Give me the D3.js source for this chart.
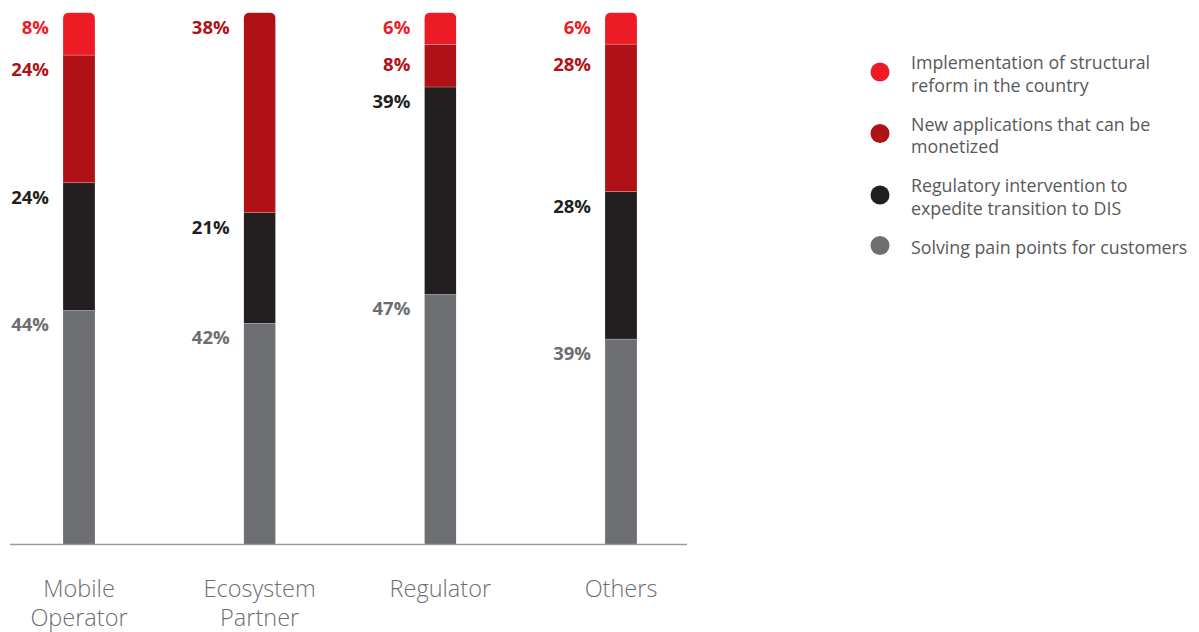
<!DOCTYPE html>
<html>
<head>
<meta charset="utf-8">
<script src="https://cdn.jsdelivr.net/npm/d3@7"></script>
<style>
  body { margin: 0; background: #fff; }
  text { font-family: "Open Sans", "Noto Sans", sans-serif; }
</style>
</head>
<body>
<script>
// data
var categories = ["Mobile Operator", "Ecosystem Partner", "Regulator", "Others"];
var solving = [44, 42, 47, 39];
var regulatory = [24, 21, 39, 28];
var newApps = [24, 38, 8, 28];
var implementation = [8, 0, 6, 6];

var seriesKeys = ["solving", "regulatory", "newApps", "implementation"];
var legendLines = {
  implementation: ["Implementation of structural", "reform in the country"],
  newApps: ["New applications that can be", "monetized"],
  regulatory: ["Regulatory intervention to", "expedite transition to DIS"],
  solving: ["Solving pain points for customers"]
};
var colors = {
  solving: "#6d6e71",
  regulatory: "#231f20",
  newApps: "#b01117",
  implementation: "#ed1c24"
};

var rows = categories.map(function(c, i) {
  return {cat: c, solving: solving[i], regulatory: regulatory[i],
          newApps: newApps[i], implementation: implementation[i]};
});

var W = 1199, H = 632;
var svg = d3.select("body").append("svg").attr("width", W).attr("height", H);

var x = d3.scalePoint().domain(categories).range([79, 621]);
var y = d3.scaleLinear().domain([0, 1]).range([544.5, 12.5]);
var barW = 32;

var stack = d3.stack().keys(seriesKeys).offset(d3.stackOffsetExpand);
var stacked = stack(rows);

// clip paths for rounded tops
var defs = svg.append("defs");
categories.forEach(function(c, i) {
  defs.append("clipPath").attr("id", "clip" + i)
    .append("rect")
    .attr("x", x(c) - barW / 2)
    .attr("y", y(1))
    .attr("width", barW)
    .attr("height", y(0) - y(1) + 20)
    .attr("rx", 6);
});

var bars = svg.append("g");
stacked.forEach(function(s) {
  bars.selectAll(null).data(s).enter().append("rect")
    .attr("clip-path", function(d, i) { return "url(#clip" + i + ")"; })
    .attr("x", function(d) { return x(d.data.cat) - barW / 2; })
    .attr("y", function(d) { return y(d[1]); })
    .attr("width", barW)
    .attr("height", function(d) { return Math.max(0, y(d[0]) - y(d[1])); })
    .attr("fill", colors[s.key])
    .attr("stroke", "rgba(255,255,255,0.35)")
    .attr("stroke-width", 0.6);
});

// value labels, from top segment down
var labels = svg.append("g");
categories.forEach(function(c, i) {
  var prev = -4;
  seriesKeys.slice().reverse().forEach(function(k) {
    var d = stacked[seriesKeys.indexOf(k)][i];
    var v = rows[i][k];
    if (!v) return;
    var by = Math.max(y(d[1]) + 21, prev + 37);
    prev = by;
    labels.append("text")
      .attr("x", x(c) - barW / 2 - 14)
      .attr("y", by)
      .attr("text-anchor", "end")
      .attr("font-size", 18.5)
      .attr("font-weight", "bold")
      .attr("fill", colors[k])
      .text(v + "%");
  });
});

// baseline
svg.append("line")
  .attr("x1", 10).attr("x2", 687)
  .attr("y1", y(0)).attr("y2", y(0))
  .attr("stroke", "#9a9a9a")
  .attr("stroke-width", 1.5);

// category labels
categories.forEach(function(c) {
  var parts = c.split(" ");
  var t = svg.append("text")
    .attr("text-anchor", "middle")
    .attr("font-size", 23.5)
    .attr("font-weight", 300)
    .attr("fill", "#6d6e71");
  parts.forEach(function(p, j) {
    t.append("tspan").attr("x", x(c)).attr("y", 597 + j * 29).text(p);
  });
});

// legend
var legendOrder = ["implementation", "newApps", "regulatory", "solving"];
var legend = svg.append("g");
legendOrder.forEach(function(k, i) {
  var lines = legendLines[k];
  var baseY = 69 + i * 61.5;
  legend.append("circle")
    .attr("cx", 880)
    .attr("cy", baseY + (lines.length - 1) * 11 - 8)
    .attr("r", 9.5)
    .attr("fill", colors[k]);
  var t = legend.append("text")
    .attr("font-size", 17.8)
    .attr("fill", "#58595b");
  lines.forEach(function(l, j) {
    t.append("tspan").attr("x", 911).attr("y", baseY + j * 22.5).text(l);
  });
});
</script>
</body>
</html>
